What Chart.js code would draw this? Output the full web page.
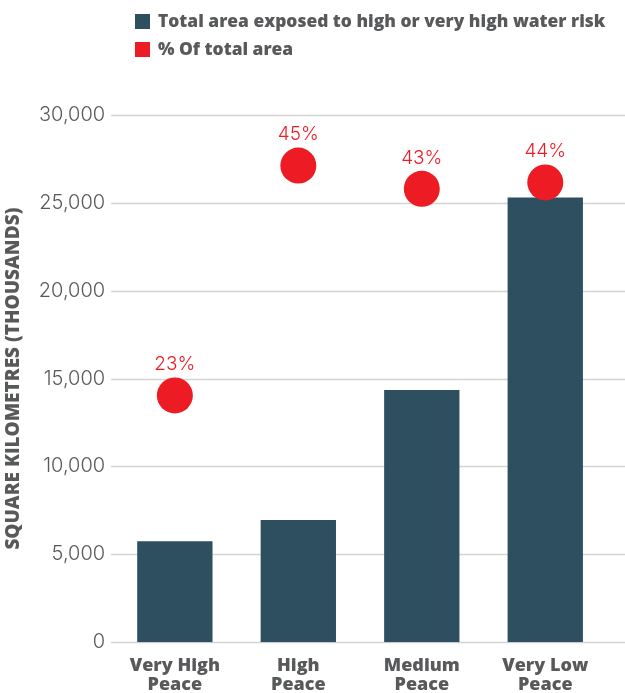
<!DOCTYPE html>
<html>
<head>
<meta charset="utf-8">
<script src="https://cdn.jsdelivr.net/npm/chart.js@4/dist/chart.umd.min.js"></script>
<style>
  html, body { margin: 0; padding: 0; background: #fff; overflow: hidden; }
  #wrap { position: relative; width: 625px; height: 693px; }
  canvas { position: absolute; left: 0; top: 0; }
  .leg { position: absolute; left: 135px; font-family: "Open Sans", sans-serif; font-weight: 800; font-size: 17.4px; line-height: 20px; color: #58595b; white-space: nowrap; }
  .leg span.box { display: inline-block; width: 15px; height: 15px; vertical-align: -2px; margin-right: 8px; }
</style>
</head>
<body>
<div id="wrap">
  <canvas id="c" width="625" height="693"></canvas>
  <div class="leg" id="leg1" style="top:10px;"><span class="box" style="background:#2e4f5f"></span><span id="l1"></span></div>
  <div class="leg" id="leg2" style="top:38px;"><span class="box" style="background:#ed1c24"></span><span id="l2"></span></div>
</div>
<script>
const categories = [["Very High", "Peace"], ["High", "Peace"], ["Medium", "Peace"], ["Very Low", "Peace"]];
const areaValues = [5750, 6950, 14350, 25300];
const percentValues = [23.4, 45.2, 43.0, 43.6];
const seriesNames = ["Total area exposed to high or very high water risk", "% Of total area"];
const yTicks = [0, 5000, 10000, 15000, 20000, 25000, 30000];
const yTitle = "SQUARE KILOMETRES (THOUSANDS)";

document.getElementById('l1').textContent = seriesNames[0];
document.getElementById('l2').textContent = seriesNames[1];

const gridPlugin = {
  id: 'fullGrid',
  beforeDatasetsDraw(chart) {
    const ctx = chart.ctx;
    const y = chart.scales.y;
    ctx.save();
    ctx.strokeStyle = '#d4d4d4';
    ctx.lineWidth = 1.5;
    y.ticks.forEach(t => {
      const py = Math.round(y.getPixelForValue(t.value)) + 0.5;
      ctx.beginPath();
      ctx.moveTo(chart.chartArea.left - 2, py);
      ctx.lineTo(chart.width, py);
      ctx.stroke();
    });
    ctx.restore();
  }
};

const labelPlugin = {
  id: 'pctLabels',
  afterDatasetsDraw(chart) {
    const ctx = chart.ctx;
    const meta = chart.getDatasetMeta(1);
    ctx.save();
    ctx.fillStyle = '#ed1c24';
    ctx.font = '300 19px Inter, Roboto, sans-serif';
    ctx.textAlign = 'center';
    ctx.textBaseline = 'middle';
    meta.data.forEach((pt, i) => {
      ctx.fillText(Math.round(percentValues[i]) + '%', pt.x, pt.y - 31);
    });
    ctx.restore();
  }
};

new Chart(document.getElementById('c'), {
  data: {
    labels: categories,
    datasets: [
      {
        type: 'bar',
        label: seriesNames[0],
        data: areaValues,
        backgroundColor: '#2e4f5f',
        categoryPercentage: 1,
        barPercentage: 0.61,
        yAxisID: 'y',
        order: 2
      },
      {
        type: 'line',
        label: seriesNames[1],
        data: percentValues,
        showLine: false,
        pointRadius: 18,
        pointHoverRadius: 18,
        pointBackgroundColor: '#ed1c24',
        pointBorderColor: '#ed1c24',
        pointBorderWidth: 0,
        yAxisID: 'y1',
        order: 1
      }
    ]
  },
  options: {
    responsive: false,
    animation: false,
    layout: { padding: { top: 115, right: 12, left: 2, bottom: -15 } },
    plugins: { legend: { display: false }, tooltip: { enabled: false } },
    scales: {
      x: {
        offset: true,
        grid: { display: false, drawTicks: false },
        border: { display: false },
        ticks: {
          color: '#58595b',
          font: { family: '"Open Sans", sans-serif', size: 18, weight: '800', lineHeight: 1.05 },
          padding: 14,
          maxRotation: 0
        }
      },
      y: {
        min: 0, max: 30000,
        afterBuildTicks(axis) { axis.ticks = yTicks.map(v => ({ value: v })); },
        grid: { display: false, drawTicks: false },
        border: { display: false },
        ticks: {
          color: '#595959',
          font: { family: 'Inter, Roboto, sans-serif', size: 20, weight: '300' },
          padding: 8,
          callback: v => v.toLocaleString('en-US')
        },
        title: {
          display: true,
          text: yTitle,
          color: '#58595b',
          font: { family: '"Open Sans", sans-serif', size: 19, weight: '800' },
          padding: { top: 0, bottom: 6 }
        }
      },
      y1: {
        min: 0, max: 50,
        display: false
      }
    }
  },
  plugins: [gridPlugin, labelPlugin]
});
</script>
</body>
</html>
